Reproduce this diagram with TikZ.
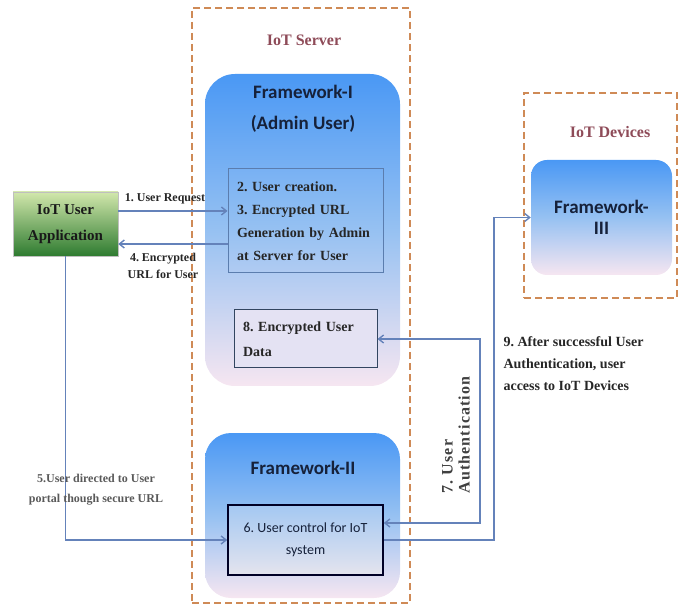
\documentclass[tikz,border=0pt]{standalone}
\usepackage{fontspec}
\setmainfont{Liberation Serif}
\newfontfamily\calib{Carlito}
\usetikzlibrary{arrows.meta}
\frenchspacing
\definecolor{zonec}{HTML}{CF8A56}
\definecolor{arrc}{HTML}{6482BA}
\definecolor{titlec}{HTML}{8E4B58}
\definecolor{fwtop}{HTML}{4A98F4}
\definecolor{fwmid}{HTML}{96C1F2}
\definecolor{fwbot}{HTML}{F6E6F1}
\definecolor{fwtext}{HTML}{16213A}
\definecolor{boxline}{HTML}{5B7DAE}
\definecolor{boxfill}{HTML}{E4E2F3}
\definecolor{btop}{HTML}{A4C8F2}
\definecolor{bbot}{HTML}{E4E4EE}
\definecolor{apptop}{HTML}{D2E7AC}
\definecolor{appbot}{HTML}{2E7B30}
\begin{document}
\frenchspacing
\begin{tikzpicture}[x=1pt,y=-1pt,
  zone/.style={draw=zonec,line width=1.8pt,dash pattern=on 7pt off 4pt},
  fwbox/.style={shade,top color=fwtop,bottom color=fwbot,middle color=fwmid,draw=none},
  fwtitle/.style={font=\calib\bfseries\fontsize{19}{31}\selectfont,text=fwtext,align=center},
  zonetitle/.style={font=\bfseries\fontsize{16}{19}\selectfont,text=titlec},
  stepbox/.style={draw=boxline,line width=1pt,align=left,inner xsep=9pt,font=\bfseries\fontsize{14}{23}\selectfont,text=black!85},
  lab/.style={font=\bfseries\fontsize{12}{17}\selectfont,align=center,text=black!85},
  arr/.style={draw=arrc,line width=1.4pt,-{Straight Barb[length=5pt,width=8pt]}},
  arrboth/.style={draw=arrc,line width=1.4pt,{Straight Barb[length=5pt,width=8pt]}-{Straight Barb[length=5pt,width=8pt]}},
]
\useasboundingbox (0,0) rectangle (688,609);

% zones
\node[zone, minimum width=218, minimum height=595] (server) at (301,305.5) {};
\node[zonetitle] (servert) at (304,40) {IoT Server};
\node[zone, minimum width=153, minimum height=205] (dev) at (600.5,195.5) {};
\node[zonetitle] (devt) at (610,132) {IoT Devices};

% Framework I
\node[fwbox, rounded corners=30pt, minimum width=195, minimum height=312] (fw1) at (302.5,230) {};
\node[fwtitle] (fw1t) at (303,109) {Framework-I\\(Admin User)};
\node[stepbox, text width=137pt, minimum height=104] (b23) at (305.5,221)
  {2. User creation.\\3. Encrypted URL\\Generation by Admin\\at Server for User};
\node[stepbox, fill=boxfill, text width=125pt, minimum height=58, draw=black!45!boxline,
  font=\bfseries\fontsize{14}{25}\selectfont] (b8) at (305.5,339) {8. Encrypted User\\Data};

% Framework II
\node[fwbox, rounded corners=26pt, minimum width=195, minimum height=165] (fw2) at (302.5,515.5) {};
\node[fwtitle] (fw2t) at (303,468) {Framework-II};
\node[draw=black!85!blue, line width=1.6pt, shade, top color=btop, bottom color=bbot,
  minimum width=155, minimum height=70, align=center, text=fwtext,
  font=\calib\fontsize{14}{22}\selectfont] (b6) at (305.5,540) {6. User control for IoT\\system};

% Framework III
\node[fwbox, rounded corners=16pt, minimum width=141, minimum height=115, fwtitle,
  font=\calib\bfseries\fontsize{19}{21}\selectfont] (fw3) at (601.5,217.5) {Framework-\\III};

% App
\node[shade, top color=apptop, bottom color=appbot, draw=gray!50, minimum width=105,
  minimum height=64, align=center, font=\bfseries\fontsize{15}{26}\selectfont, text=black!90]
  (app) at (65.5,224) {IoT User\\Application};

% connectors
\coordinate (y1) at (0,211);
\coordinate (y4) at (0,244);
\coordinate (k7) at (480,523);
\coordinate (k9) at (494,540);
\draw[arr] (app.east |- y1) -- (b23.west |- y1);
\draw[arr] (b23.west |- y4) -- (app.east |- y4);
\draw[arr] (app.south) |- (b6.west);
\draw[arrboth] (b8.east) -| (k7) -- (b6.east |- k7);
\draw[arr] (b6.east) -- (k9) |- (fw3.west);

% labels
\node[lab] (l1) at (165,199) {1. User Request};
\node[lab] (l4) at (163,266) {4. Encrypted\\URL for User};
\node[lab, text=black!65, font=\bfseries\fontsize{12}{20}\selectfont] (l5) at (96,490)
  {5.User directed to User\\portal though secure URL};
\node[lab, rotate=90, align=left, text=black!75,
  font=\bfseries\fontsize{16}{17}\selectfont\addfontfeature{LetterSpace=7}] (l7) at (456,435)
  {7. User\\Authentication};
\node[lab, align=left, anchor=west, font=\bfseries\fontsize{14}{22}\selectfont] (l9) at (500,364)
  {9. After successful User\\Authentication, user\\access to IoT Devices};
\end{tikzpicture}
\end{document}
